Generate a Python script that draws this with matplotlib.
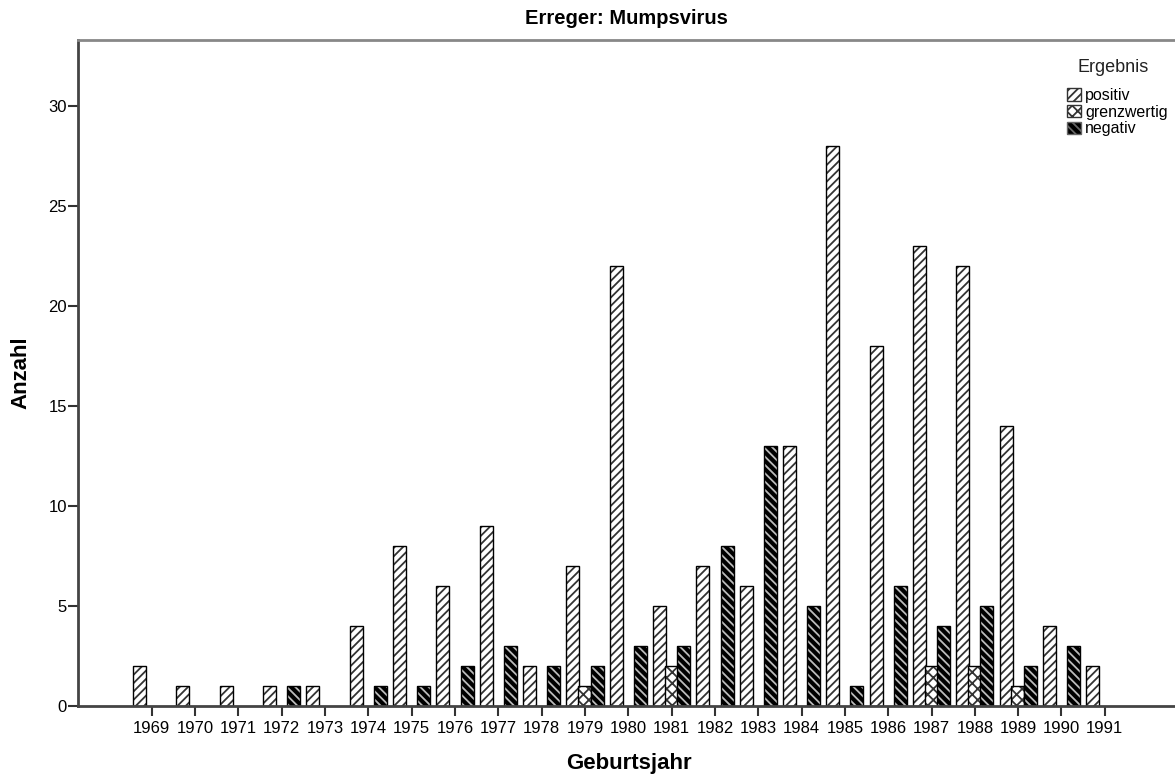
import numpy as np
import matplotlib
matplotlib.use("Agg")
from matplotlib import pyplot as plt
from matplotlib.patches import Patch

plt.rcParams['font.family'] = ['Liberation Sans', 'DejaVu Sans']
plt.rcParams['hatch.linewidth'] = 1.3

years = list(range(1969, 1992))
positiv = [2, 1, 1, 1, 1, 4, 8, 6, 9, 2, 7, 22, 5, 7, 6, 13, 28, 18, 23, 22, 14, 4, 2]
grenzwertig = [0, 0, 0, 0, 0, 0, 0, 0, 0, 0, 1, 0, 2, 0, 0, 0, 0, 0, 2, 2, 1, 0, 0]
negativ = [0, 0, 0, 1, 0, 1, 1, 2, 3, 2, 2, 3, 3, 8, 13, 5, 1, 6, 4, 5, 2, 3, 0]

fig = plt.figure(figsize=(11.75, 7.78), dpi=100)
ax = fig.add_axes([78 / 1175, 72 / 778, 1 - 78 / 1175, (706 - 40) / 778])

x = np.arange(len(years))
w = 0.3

def draw(vals, off, face, hcol, hatch):
    vals = np.array(vals)
    m = vals > 0
    # hatch pass (colour of the hatch lines comes from edgecolor)
    ax.bar(x[m] + off, vals[m], w, color=face, edgecolor=hcol, hatch=hatch, linewidth=0)
    # outline pass
    ax.bar(x[m] + off, vals[m], w, fill=False, edgecolor='black', linewidth=1.0)

draw(positiv, -0.28, 'white', '#333333', '////')
draw(grenzwertig, -0.01, 'white', '#333333', 'xxx')
draw(negativ, 0.28, 'black', '#bbbbbb', '\\\\\\\\')

ax.set_xlim(-1.70, 23.62)
ax.set_ylim(0, 33.3)
ax.set_xticks(x)
ax.set_xticklabels([str(y) for y in years], fontsize=12)
ax.set_yticks([0, 5, 10, 15, 20, 25, 30])
ax.tick_params(axis='y', labelsize=12, length=7, width=1.5, direction='out', color='#333333', pad=1)
ax.tick_params(axis='x', labelsize=12, length=7, width=1.5, direction='out', color='#333333', pad=4)

ax.spines['right'].set_visible(False)
ax.spines['top'].set_color('#888888')
ax.spines['top'].set_linewidth(2)
ax.spines['left'].set_color('#444444')
ax.spines['left'].set_linewidth(2)
ax.spines['bottom'].set_color('#444444')
ax.spines['bottom'].set_linewidth(2)

fig.text(626 / 1175, 1 - 19 / 778, 'Erreger: Mumpsvirus', ha='center', va='center',
         fontsize=14.5, fontweight='bold')
fig.text(629 / 1175, 1 - 763 / 778, 'Geburtsjahr', ha='center', va='center',
         fontsize=16, fontweight='bold')
fig.text(21 / 1175, 1 - 373 / 778, 'Anzahl', ha='center', va='center',
         fontsize=16, fontweight='bold', rotation=90)

# legend title placed separately to leave a gap above the entries
fig.text(1113 / 1175, 1 - 68 / 778, 'Ergebnis', ha='center', va='center',
         fontsize=13, color='#222222')

handles = [
    Patch(facecolor='white', edgecolor='#333333', hatch='////', linewidth=1),
    Patch(facecolor='white', edgecolor='#333333', hatch='xxx', linewidth=1),
    Patch(facecolor='black', edgecolor='#666666', hatch='\\\\\\\\', linewidth=1),
]
leg = fig.legend(handles, ['positiv', 'grenzwertig', 'negativ'],
                 loc='upper right', bbox_to_anchor=(1168 / 1175, 1 - 88 / 778),
                 frameon=False, fontsize=11.5,
                 handlelength=0.9, handleheight=0.8, handletextpad=0.25,
                 labelspacing=0.1, borderaxespad=0, borderpad=0)

fig.savefig('out.png', dpi=100)
